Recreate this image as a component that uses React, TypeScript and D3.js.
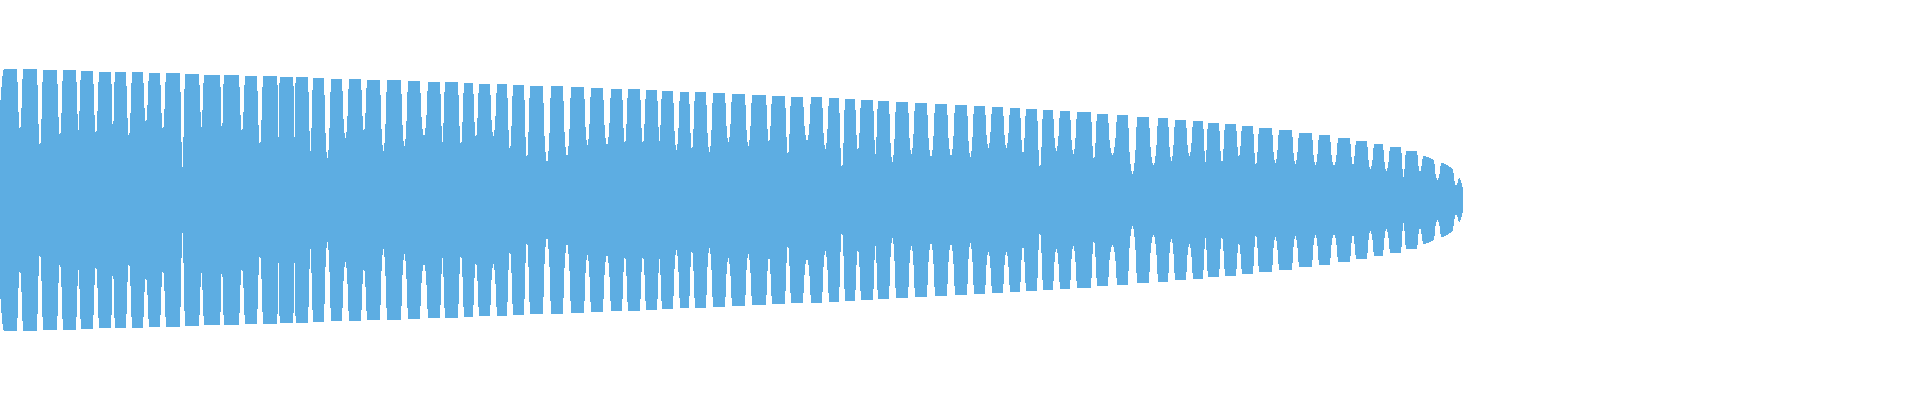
import React, { useEffect, useRef } from "react";
import * as d3 from "d3";

const settings = {
  width: 1920,
  height: 400,
  color: "#5dade2",
};

// each pulse: [start, end] of its flat top (sample position, px-frames)
const pulseStart: number[] = [
  4, 23, 43, 63, 81, 99, 115, 132, 149, 166, 185, 204, 224, 245, 263, 280,
  296, 313, 331, 349, 367, 387, 408, 428, 445, 464, 479, 497, 513, 530, 551,
  571, 591, 611, 628, 646, 662, 680, 695, 713, 732, 752, 772, 791, 811, 829,
  845, 861, 878, 896, 915, 935, 955, 974, 992, 1010, 1026, 1043, 1060, 1077,
  1097, 1117, 1137, 1158, 1175, 1193, 1208, 1225, 1242, 1259, 1279, 1299,
  1319, 1338, 1356, 1374, 1390, 1406, 1423, 1441, 1459,
];
const pulseEnd: number[] = [
  17, 37, 57, 76, 93, 111, 126, 143, 160, 180, 199, 220, 239, 257, 277, 293,
  308, 324, 342, 361, 380, 401, 420, 440, 458, 473, 490, 507, 524, 543, 563,
  584, 603, 622, 640, 657, 673, 689, 706, 725, 745, 766, 785, 803, 822, 839,
  855, 873, 889, 908, 927, 947, 967, 985, 1003, 1020, 1037, 1053, 1070, 1091,
  1108, 1128, 1149, 1168, 1186, 1203, 1219, 1236, 1253, 1272, 1292, 1312,
  1330, 1350, 1367, 1383, 1401, 1417, 1434, 1453, 1463,
];
// peak amplitude at the start of each pulse
const pulsePeak: number[] = [
  0.655, 0.655, 0.65, 0.65, 0.645, 0.64, 0.64, 0.64, 0.635, 0.635, 0.63, 0.625,
  0.625, 0.62, 0.62, 0.615, 0.615, 0.61, 0.605, 0.605, 0.6, 0.6, 0.595, 0.59,
  0.59, 0.585, 0.58, 0.58, 0.575, 0.57, 0.57, 0.565, 0.56, 0.555, 0.555, 0.55,
  0.545, 0.54, 0.54, 0.535, 0.53, 0.525, 0.52, 0.515, 0.515, 0.51, 0.505, 0.5,
  0.495, 0.49, 0.485, 0.48, 0.475, 0.47, 0.465, 0.46, 0.455, 0.45, 0.445, 0.44,
  0.43, 0.425, 0.415, 0.41, 0.4, 0.395, 0.385, 0.38, 0.37, 0.36, 0.35, 0.335,
  0.325, 0.31, 0.295, 0.28, 0.265, 0.245, 0.22, 0.185, 0.11,
];
// amplitude at the end of the pulse, where it differs from the peak
const pulseTail: Record<number, number> = { 78: 0.2, 79: 0.15, 80: 0.055 };
// lowest amplitude in the gap following each pulse
const gapFloor: number[] = [
  0.35, 0.265, 0.315, 0.35, 0.33, 0.325, 0.315, 0.385, 0.35, 0.165, 0.365,
  0.315, 0.34, 0.27, 0.315, 0.315, 0.245, 0.21, 0.31, 0.34, 0.245, 0.27, 0.32,
  0.29, 0.275, 0.31, 0.32, 0.25, 0.205, 0.19, 0.22, 0.275, 0.275, 0.28, 0.28,
  0.295, 0.25, 0.25, 0.24, 0.29, 0.27, 0.285, 0.225, 0.295, 0.255, 0.155,
  0.245, 0.23, 0.19, 0.23, 0.215, 0.22, 0.215, 0.26, 0.26, 0.23, 0.16, 0.245,
  0.23, 0.2, 0.225, 0.13, 0.175, 0.195, 0.22, 0.19, 0.185, 0.215, 0.175,
  0.185, 0.18, 0.175, 0.17, 0.175, 0.155, 0.145, 0.115, 0.14, 0.1, 0.07,
];
const leadIn = 0.46;

type Pt = [number, number];

export default function App() {
  const svgRef = useRef<SVGSVGElement>(null);

  useEffect(() => {
    const svg = d3.select(svgRef.current);
    svg.selectAll("*").remove();

    const x = d3.scaleLinear().domain([0, settings.width]).range([0, settings.width]);
    const y = d3.scaleLinear().domain([-1, 1]).range([settings.height, 0]);

    const pts: Pt[] = [[0, leadIn]];
    pulseStart.forEach((s, i) => {
      const e = pulseEnd[i];
      const top = pulsePeak[i];
      const tail = pulseTail[i] ?? top;
      pts.push([s, top]);
      pts.push([e, tail]);
      if (i + 1 < pulseStart.length) {
        const next = pulseStart[i + 1];
        const floor = gapFloor[i];
        // shoulders either side of the gap
        pts.push([e + 1, tail - (tail - floor) * 0.5]);
        pts.push([(e + next) / 2, floor]);
        const nextTop = pulsePeak[i + 1];
        pts.push([next - 1, nextTop - (nextTop - floor) * 0.45]);
      }
    });

    const area = d3
      .area<Pt>()
      .x((d) => x(d[0]))
      .y0((d) => y(-d[1]))
      .y1((d) => y(d[1]))
      .curve(d3.curveMonotoneX);

    svg
      .append("path")
      .datum(pts)
      .attr("fill", settings.color)
      .attr("shape-rendering", "crispEdges")
      .attr("d", area);
  }, []);

  return (
    <svg
      ref={svgRef}
      width={settings.width}
      height={settings.height}
      style={{ position: "absolute", left: 0, top: 0, display: "block" }}
    ></svg>
  );
}
